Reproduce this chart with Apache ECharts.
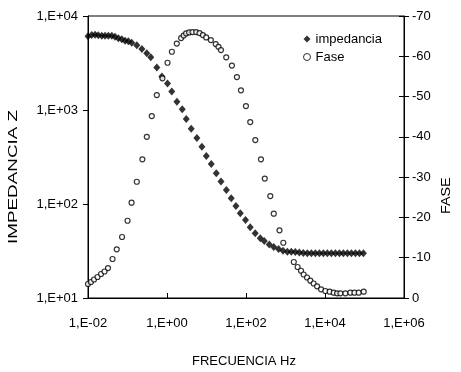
<!DOCTYPE html>
<html>
<head>
<meta charset="utf-8">
<script src="https://cdn.jsdelivr.net/npm/echarts@6/dist/echarts.min.js"></script>
<style>
html,body{margin:0;padding:0;background:#fff;}
#chart{width:461px;height:372px;}
</style>
</head>
<body>
<div id="chart"></div>
<script>
// Frequency (Hz) and impedance magnitude (ohm)
const impFreq = [0.0100,0.0124,0.0151,0.0182,0.0223,0.0270,0.0327,0.0400,0.0484,0.0587,0.0716,0.0868,0.105,0.128,0.172,0.231,0.308,0.389,0.552,0.743,1.03,1.32,1.78,2.43,3.07,4.11,5.70,7.66,9.88,13.2,17.7,23.3,31.8,42.3,55.6,71.6,97.3,128,171,230,290,388,505,668,865,1112,1403,1774,2240,2826,3572,4508,5700,7194,9080,11480,14490,18320,23120,29180,36890,46560,58880,74300,93800];
const impValue = [6100,6280,6320,6240,6170,6170,6170,6170,6030,5790,5650,5460,5380,5200,4880,4450,4010,3640,2830,2270,1910,1570,1225,1017,802,632,504,407,324,267,212,173,141,115,95.3,79.6,67.6,56.5,48.8,43.2,40.4,37.0,34.9,33.2,31.8,31.1,31.0,30.8,30.5,30.2,30.0,30.0,29.9,29.9,29.9,29.9,29.9,29.9,29.9,29.9,29.9,29.9,29.9,29.9,29.9];
// Frequency (Hz) and phase (degrees)
const phaseFreq = [0.0100,0.0119,0.0142,0.0174,0.0214,0.0262,0.0321,0.0418,0.0534,0.0728,0.1004,0.1268,0.172,0.238,0.308,0.412,0.552,0.766,1.03,1.33,1.77,2.28,2.64,3.05,3.64,4.41,5.48,6.64,8.10,9.82,12.9,17.1,20.1,23.2,31.6,44.0,58.9,74.5,99.6,128,172,239,299,412,505,705,880,1622,2027,2472,2877,3509,4256,5160,6296,7950,10210,13130,16590,20230,24530,32840,43970,55560,71420,95550];
const phaseValue = [-3.47,-3.97,-4.59,-5.21,-5.96,-6.58,-7.44,-9.68,-12.08,-15.14,-19.18,-23.65,-28.86,-34.42,-40.02,-45.16,-50.37,-54.52,-58.39,-61.12,-63.15,-64.52,-65.14,-65.68,-65.93,-66.00,-66.00,-65.76,-65.26,-64.69,-64.02,-63.03,-62.36,-61.54,-59.73,-57.69,-54.84,-51.54,-47.64,-43.67,-39.21,-34.42,-29.65,-25.31,-20.92,-16.80,-13.72,-8.93,-7.69,-6.77,-5.83,-5.09,-4.29,-3.60,-2.90,-2.16,-1.74,-1.56,-1.32,-1.17,-1.17,-1.17,-1.32,-1.32,-1.32,-1.56];
// Tick labels
const xTicks = [0.01, 1, 100, 10000, 1000000];
const xTickLabels = ['1,E-02','1,E+00','1,E+02','1,E+04','1,E+06'];
const yTicks = [10, 100, 1000, 10000];
const yTickLabels = ['1,E+01','1,E+02','1,E+03','1,E+04'];
const seriesNames = ['impedancia', 'Fase'];
const xTitle = 'FRECUENCIA Hz';
const yTitle = 'IMPEDANCIA Z';
const y2Title = 'FASE';

function pickLabel(ticks, labels, v) {
  for (let i = 0; i < ticks.length; i++) {
    if (Math.abs(Math.log10(v) - Math.log10(ticks[i])) < 1e-6) return labels[i];
  }
  return '';
}

const FONT = 'Liberation Sans, Arial, sans-serif';
const chart = echarts.init(document.getElementById('chart'), null, {renderer: 'canvas'});
chart.setOption({
  animation: false,
  backgroundColor: '#fff',
  textStyle: {fontFamily: FONT},
  grid: {left: 88, right: 57, top: 16, bottom: 74, show: true, borderColor: '#000', borderWidth: 1, backgroundColor: 'transparent'},
  legend: {
    orient: 'vertical', left: 298, top: 27, itemGap: 4, itemWidth: 7, itemHeight: 7,
    textStyle: {fontFamily: FONT, fontSize: 13, color: '#000', lineHeight: 14},
    data: [
      {name: seriesNames[0], icon: 'diamond'},
      {name: seriesNames[1], icon: 'circle', itemStyle: {borderWidth: 1}}
    ]
  },
  xAxis: {
    type: 'log', logBase: 10, min: 0.01, max: 1000000, interval: 2,
    axisLine: {lineStyle: {color: '#000', width: 1}},
    axisTick: {inside: true, length: 5, lineStyle: {color: '#000'}},
    minorTick: {show: false},
    splitLine: {show: false},
    axisLabel: {color: '#000', fontSize: 13, fontFamily: FONT, margin: 19,
      formatter: v => pickLabel(xTicks, xTickLabels, v)}
  },
  yAxis: [
    {
      type: 'log', logBase: 10, min: 10, max: 10000, position: 'left',
      axisLine: {show: true, lineStyle: {color: '#000', width: 1}},
      axisTick: {show: true, inside: false, length: 5, lineStyle: {color: '#000'}},
      splitLine: {show: false},
      axisLabel: {color: '#000', fontSize: 13, fontFamily: FONT, margin: 10,
        formatter: v => pickLabel(yTicks, yTickLabels, v)}
    },
    {
      type: 'value', min: -70, max: 0, interval: 10, inverse: true, position: 'right',
      axisLine: {show: true, lineStyle: {color: '#000', width: 1}},
      axisTick: {show: true, inside: false, length: 5, lineStyle: {color: '#000'}},
      splitLine: {show: false},
      axisLabel: {color: '#000', fontSize: 13, fontFamily: FONT, margin: 8}
    },
    {
      type: 'value', min: -70, max: 0, interval: 10, inverse: true, position: 'right',
      axisLine: {show: false},
      axisTick: {show: true, inside: true, length: 5, lineStyle: {color: '#000'}},
      splitLine: {show: false},
      axisLabel: {show: false}
    }
  ],
  graphic: [
    {type: 'text', left: 192, top: 355, style: {text: xTitle, fill: '#000', font: '13px ' + FONT}},
    {type: 'text', x: 7, y: 244, rotation: Math.PI / 2, scaleX: 1.45, style: {text: yTitle, fill: '#000', font: '13px ' + FONT}},
    {type: 'text', x: 440, y: 214, rotation: Math.PI / 2, scaleX: 1.1, style: {text: y2Title, fill: '#000', font: '13px ' + FONT}}
  ],
  series: [
    {
      name: seriesNames[0], type: 'scatter', xAxisIndex: 0, yAxisIndex: 0,
      symbol: 'diamond', symbolSize: [7, 8],
      itemStyle: {color: '#000', borderColor: '#000', borderWidth: 0},
      data: impFreq.map((f, i) => [f, impValue[i]]), z: 3
    },
    {
      name: seriesNames[1], type: 'scatter', xAxisIndex: 0, yAxisIndex: 1,
      symbol: 'circle', symbolSize: 5,
      itemStyle: {color: '#fff', borderColor: '#000', borderWidth: 1.2},
      data: phaseFreq.map((f, i) => [f, phaseValue[i]]), z: 4
    }
  ]
});
</script>
</body>
</html>
